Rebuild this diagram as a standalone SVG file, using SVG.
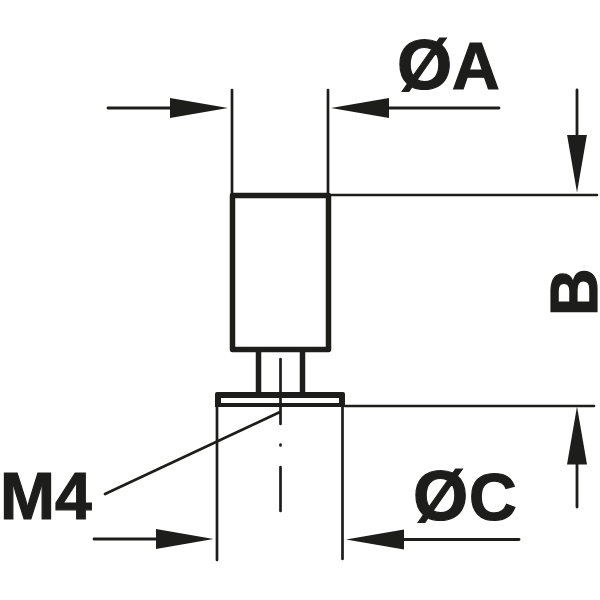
<svg xmlns="http://www.w3.org/2000/svg" width="600" height="600" viewBox="0 0 600 600">
<style>
.thin{fill:none;stroke:#1d1d1b;stroke-width:2.7;stroke-linecap:round}
.dim{fill:none;stroke:#1d1d1b;stroke-width:2.8;stroke-linecap:round;marker-end:url(#head)}
.thick{fill:none;stroke:#1d1d1b;stroke-width:5.5;stroke-linejoin:round}
.lab{font-family:"Liberation Sans",Arial,sans-serif;font-weight:700;font-size:66px;fill:#1d1d1b;stroke:#1d1d1b;stroke-width:1.2}
.dia{font-size:71px}
</style>
<defs>
<marker id="head" markerUnits="userSpaceOnUse" markerWidth="60" markerHeight="22" refX="0" refY="10" orient="auto" viewBox="0 0 60 20"><path d="M0 0L58 10L0 20Z" fill="#1d1d1b"/></marker>
</defs>
<rect width="600" height="600" fill="#fff"/>
<g id="part">
<rect class="thick" x="232.500" y="195.500" width="96" height="154"/>
<path d="M258.500 350V393M302.500 350V393" fill="none" stroke="#1d1d1b" stroke-width="5.500"/>
<path d="M215 394Q215 392 217 392H343Q345 392 345 394V407H215ZM221 398V403H339V398Z" fill="#1d1d1b" fill-rule="evenodd"/>
</g>
<g id="connectors">
<path class="thin" d="M232 90V195M328 90V195M328 195H597M217 407V560M342.500 407V559M345 406H594"/>
<path class="thin" d="M280.500 359V424M280.500 444.500V445.500M280.500 467V511M105 494L280 412"/>
<path class="dim" d="M108 108H170"/>
<path class="dim" d="M499 108H389"/>
<path class="dim" d="M577 90V134.500"/>
<path class="dim" d="M577 507V464.500"/>
<path class="dim" d="M94 539H155.500"/>
<path class="dim" d="M519 539.500H404"/>
</g>
<g id="labels">
<text class="lab" y="89"><tspan class="dia" x="397">Ø</tspan><tspan x="452">A</tspan></text>
<text class="lab" y="520"><tspan class="dia" x="413">Ø</tspan><tspan x="469">C</tspan></text>
<text class="lab" x="0" y="519">M4</text>
<text class="lab" transform="translate(597 316) rotate(-90)">B</text>
</g>
</svg>
